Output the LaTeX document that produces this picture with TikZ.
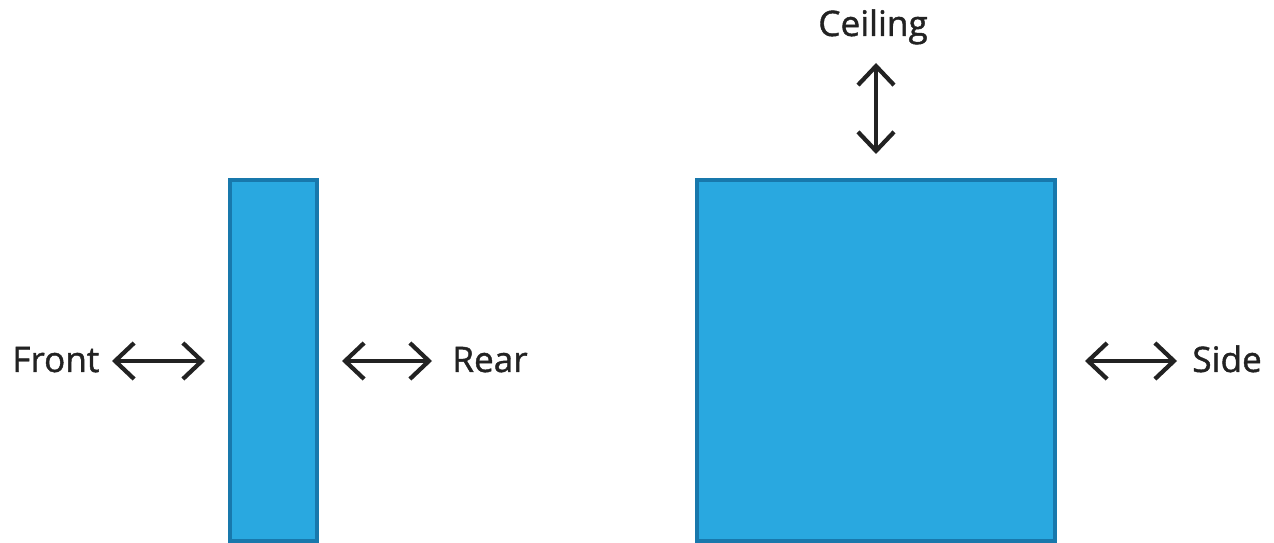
\documentclass[tikz,border=0pt]{standalone}
\usepackage{fontspec}
\setmainfont{Open Sans}
\newfontfamily\lblfont[FakeBold=1.2]{Open Sans}
\usetikzlibrary{arrows.meta,positioning}

\definecolor{panelblue}{HTML}{29A8E0}
\definecolor{paneledge}{HTML}{1878AC}
\definecolor{ink}{HTML}{222222}

\begin{document}
\begin{tikzpicture}[
x=0.02cm, y=-0.02cm,
panel/.style={draw=paneledge, fill=panelblue, line width=0.08cm, inner sep=0pt},
lbl/.style={font=\lblfont\fontsize{20}{24}\selectfont, text=ink, inner sep=0pt, anchor=base west},
dbl/.style={draw=ink, line width=0.085cm,
  {Straight Barb[length=0.38cm, width=0.72cm]}-{Straight Barb[length=0.38cm, width=0.72cm]}}
]
\useasboundingbox (0,0) rectangle (1274,543);

% panels
\node[panel, minimum width=1.74cm, minimum height=7.22cm] (slim) at (273.5,360.5) {};
\node[panel, minimum width=7.16cm, minimum height=7.22cm] (wide) at (876,360.5) {};

% labels
\node[lbl] (front) at (12,372) {Front};
\node[lbl] (rear) at (452,372) {Rear};
\node[lbl] (side) at (1192,372) {Side};
\node[lbl] (ceiling) at (818,36) {Ceiling};

% arrow ends
\coordinate (f1) at (112,361);
\coordinate (f2) at (205,361);
\coordinate (r1) at (342,361);
\coordinate (r2) at (432,361);
\coordinate (s1) at (1085,361);
\coordinate (s2) at (1177,361);
\coordinate (c1) at (876,63);
\coordinate (c2) at (876,154);

\draw[dbl] (f1) -- (f2);
\draw[dbl] (r1) -- (r2);
\draw[dbl] (s1) -- (s2);
\draw[dbl] (c1) -- (c2);

\end{tikzpicture}
\end{document}
